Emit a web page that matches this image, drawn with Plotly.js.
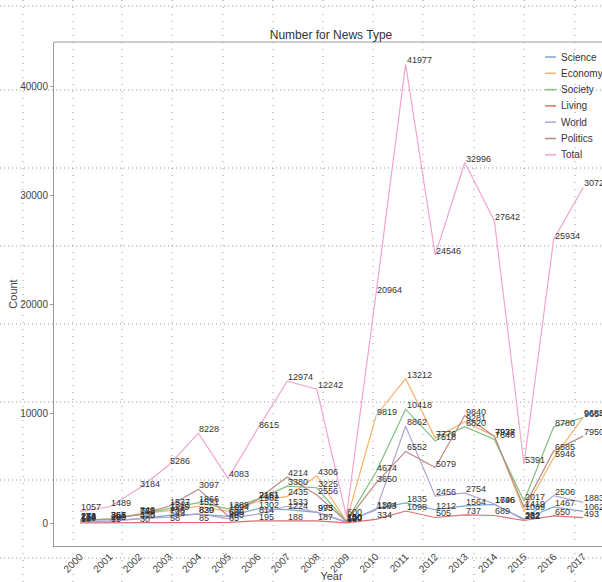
<!DOCTYPE html>
<html><head><meta charset="utf-8">
<script src="https://cdn.plot.ly/plotly-3.0.1.min.js"></script>
<style>html,body{margin:0;padding:0;overflow:hidden;background:#fff}#chart{width:612px;height:582px}</style>
</head><body><div id="chart"></div>
<script>
const years = [2000,2001,2002,2003,2004,2005,2006,2007,2008,2009,2010,2011,2012,2013,2014,2015,2016,2017];
const science  = [150,200,400,700,820,600,1302,1224,973,50,1304,1835,1212,1564,1696,352,1467,1062];
const economy  = [274,366,840,1135,1521,1094,1962,2435,4306,150,9819,13212,7776,9281,7937,1089,5946,9685];
const society  = [231,361,771,1313,1866,1288,2161,3380,3225,120,4674,10418,7518,8820,7646,2017,8780,9654];
const living   = [10,15,30,58,85,65,195,188,187,10,334,1098,505,737,689,232,650,493];
const world    = [120,180,375,543,839,400,814,1533,995,120,1183,8862,2456,2754,1746,282,2506,1883];
const politics = [272,367,768,1537,3097,636,2181,4214,2556,150,3650,6552,5079,9840,7928,1419,6585,7950];
const total    = [1057,1489,3184,5286,8228,4083,8615,12974,12242,600,20964,41977,24546,32996,27642,5391,25934,30727];
const yTicks = [0,10000,20000,30000,40000];

const seriesNames = ['Science','Economy','Society','Living','World','Politics','Total'];
const seriesData = [science,economy,society,living,world,politics,total];
const seriesColors = ['#7aa9d4','#f5b36d','#7fbf7f','#dd6f6f','#b5a3d1','#b88a84','#f0a6cf'];

const FONT = '"Liberation Sans",Arial,sans-serif';

const traces = seriesNames.map((n,i)=>({
  type:'scatter', mode:'lines', name:n, x:years, y:seriesData[i],
  line:{color:seriesColors[i], width:1.2}, showlegend:false
}));

const annotations = [];
seriesData.forEach(arr=>{
  arr.forEach((v,j)=>{
    annotations.push({x:years[j], y:v, xref:'x', yref:'y', text:String(v), showarrow:false,
      xanchor:'left', yanchor:'bottom', yshift:-3, xshift:-1,
      font:{family:FONT, size:9, color:'#333'}});
  });
});

const L=54, R=609, T=42, B=546;
const px2x = px => (px-L)/(R-L);
const py2y = py => (B-py)/(B-T);

// decorative dotted overlay grid
const vGrid = [23,73,122,172,223,273,323,373,423,474,524,575];
const hGrid = [6,90,168,246,324,402,480,558];
const shapes = [];
vGrid.forEach(px=>{
  shapes.push({type:'line', xref:'paper', yref:'paper', x0:px2x(px), x1:px2x(px), y0:py2y(582), y1:py2y(0),
    line:{color:'#999', width:1, dash:'1px,6px'}, layer:'below'});
});
hGrid.forEach(py=>{
  shapes.push({type:'line', xref:'paper', yref:'paper', x0:px2x(0), x1:px2x(612), y0:py2y(py), y1:py2y(py),
    line:{color:'#999', width:1, dash:'1px,3px'}, layer:'below'});
});
shapes.push({type:'line', xref:'paper', yref:'paper', x0:0, x1:1, y0:1, y1:1, line:{color:'#999', width:1}});

// legend (drawn from the series names / colours)
seriesNames.forEach((n,i)=>{
  const py = 57 + 16.3*i;
  shapes.push({type:'line', xref:'paper', yref:'paper', x0:px2x(545), x1:px2x(556), y0:py2y(py), y1:py2y(py),
    line:{color:seriesColors[i], width:1.5}});
  annotations.push({xref:'paper', yref:'paper', x:px2x(559), y:py2y(py), text:n, showarrow:false,
    xanchor:'left', yanchor:'middle', font:{family:FONT, size:10, color:'#333'}});
});

const layout = {
  width:612, height:582,
  margin:{l:L, r:612-R, t:T, b:582-B},
  paper_bgcolor:'#fff', plot_bgcolor:'rgba(0,0,0,0)',
  font:{family:FONT, size:10, color:'#444'},
  title:{text:'Number for News Type', x:331/612, xanchor:'center', y:1-35/582, yanchor:'middle',
    font:{family:FONT, size:12, color:'#333'}},
  showlegend:false,
  xaxis:{range:[1999.12, 2000+(R-80)/29.6], tickmode:'array', tickvals:years, ticktext:years.map(String),
    tickangle:-45, showgrid:false, zeroline:false, showline:true, linecolor:'#999', linewidth:1,
    ticks:'', tickfont:{family:FONT, size:10, color:'#444'},
    title:{text:'Year', font:{family:FONT, size:11, color:'#444'}, standoff:2}},
  yaxis:{range:[-2105, 44030], tickmode:'array', tickvals:yTicks, ticktext:yTicks.map(String),
    showgrid:false, zeroline:false, showline:true, linecolor:'#999', linewidth:1,
    ticks:'outside', ticklen:3, tickcolor:'#999', tickfont:{family:FONT, size:10, color:'#444'},
    title:{text:'Count', font:{family:FONT, size:11, color:'#444'}, standoff:0}},
  shapes:shapes,
  annotations:annotations
};
Plotly.newPlot('chart', traces, layout, {displayModeBar:false, staticPlot:true});
</script></body></html>
